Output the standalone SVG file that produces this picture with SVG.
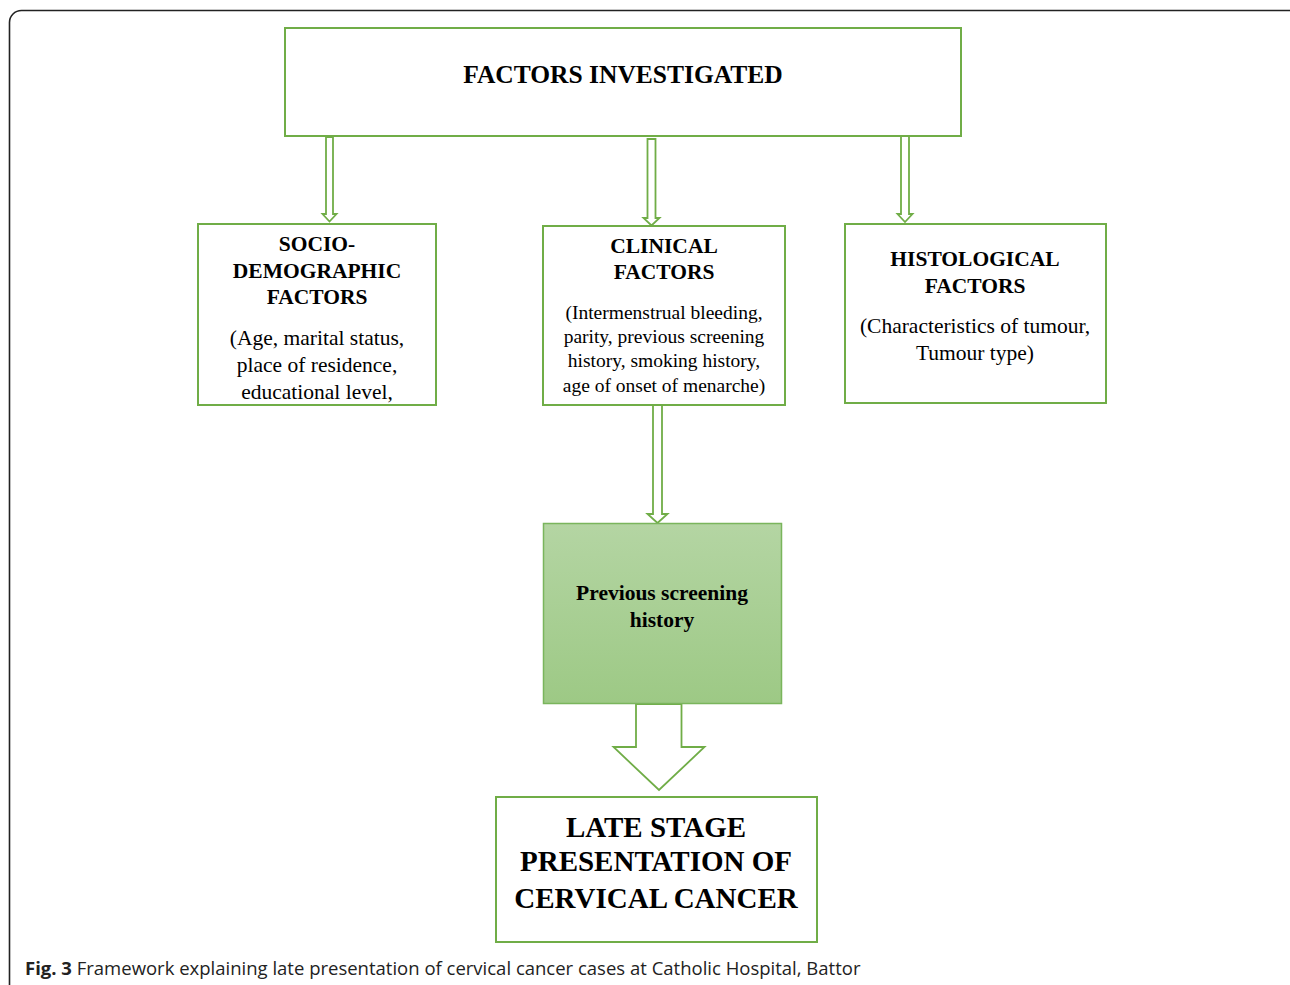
<svg xmlns="http://www.w3.org/2000/svg" width="1290" height="985" viewBox="0 0 1290 985">
<style>
.box{fill:#fff;stroke:#70ad47;stroke-width:2}
.arr{fill:#fff;stroke:#70ad47;stroke-width:1.8;stroke-linejoin:miter}
.t{font-family:"Liberation Serif",serif;fill:#000;text-anchor:middle}
.b{font-weight:bold}
.cap{font-family:"Open Sans",sans-serif;font-size:18.5px;fill:#222}
</style>
<defs>
<linearGradient id="g" x1="0" y1="0" x2="0" y2="1">
<stop offset="0" stop-color="#b4d5a3"/>
<stop offset="1" stop-color="#9dc985"/>
</linearGradient>
</defs>
<rect x="9.5" y="10.5" width="1300" height="1000" rx="12" fill="none" stroke="#222" stroke-width="1.6"/>
<g id="connectors">
<path class="arr" d="M326,137 V214 H322.5 L329.5,221.5 L336.5,214 H333 V137 Z"/>
<path class="arr" d="M647.5,139 V218 H643.5 L651.5,225.5 L659.5,218 H655.5 V139 Z"/>
<path class="arr" d="M901,136 V214 H897.5 L905,222 L912.5,214 H909 V136 Z"/>
<path class="arr" d="M653,405 V514 H647.5 L657.5,523 L667.5,514 H662 V405 Z"/>
<path class="arr" d="M636,704 V747 H613.5 L659,790 L704.5,747 H681.5 V704 Z"/>
</g>
<g id="n-top">
<rect class="box" x="285" y="28" width="676" height="108"/>
<text class="t b" x="623" y="83" font-size="25.5">FACTORS INVESTIGATED</text>
</g>
<g id="n-socio">
<rect class="box" x="198" y="224" width="238" height="181"/>
<text class="t b" font-size="21.5"><tspan x="317" y="251">SOCIO-</tspan><tspan x="317" y="278">DEMOGRAPHIC</tspan><tspan x="317" y="304">FACTORS</tspan></text>
<text class="t" font-size="21.5"><tspan x="317" y="345">(Age, marital status,</tspan><tspan x="317" y="372">place of residence,</tspan><tspan x="317" y="399">educational level,</tspan></text>
</g>
<g id="n-clinical">
<rect class="box" x="543" y="226" width="242" height="179"/>
<text class="t b" font-size="21.5"><tspan x="664" y="253">CLINICAL</tspan><tspan x="664" y="279">FACTORS</tspan></text>
<text class="t" font-size="19.5"><tspan x="664" y="319">(Intermenstrual bleeding,</tspan><tspan x="664" y="343">parity, previous screening</tspan><tspan x="664" y="367">history, smoking history,</tspan><tspan x="664" y="392">age of onset of menarche)</tspan></text>
</g>
<g id="n-histo">
<rect class="box" x="845" y="224" width="261" height="179"/>
<text class="t b" font-size="21.5"><tspan x="975" y="266">HISTOLOGICAL</tspan><tspan x="975" y="293">FACTORS</tspan></text>
<text class="t" font-size="21.5"><tspan x="975" y="333">(Characteristics of tumour,</tspan><tspan x="975" y="360">Tumour type)</tspan></text>
</g>
<g id="n-prev">
<rect x="543.5" y="523.5" width="238" height="180" fill="url(#g)" stroke="#7ab55c" stroke-width="1.5"/>
<text class="t b" font-size="21.5"><tspan x="662" y="600">Previous screening</tspan><tspan x="662" y="627">history</tspan></text>
</g>
<g id="n-late">
<rect class="box" x="496" y="797" width="321" height="145"/>
<text class="t b" font-size="29"><tspan x="656" y="837">LATE STAGE</tspan><tspan x="656" y="871">PRESENTATION OF</tspan><tspan x="656" y="908">CERVICAL CANCER</tspan></text>
</g>
<text class="cap" x="25" y="975"><tspan font-weight="bold">Fig. 3</tspan> Framework explaining late presentation of cervical cancer cases at Catholic Hospital, Battor</text>
</svg>
